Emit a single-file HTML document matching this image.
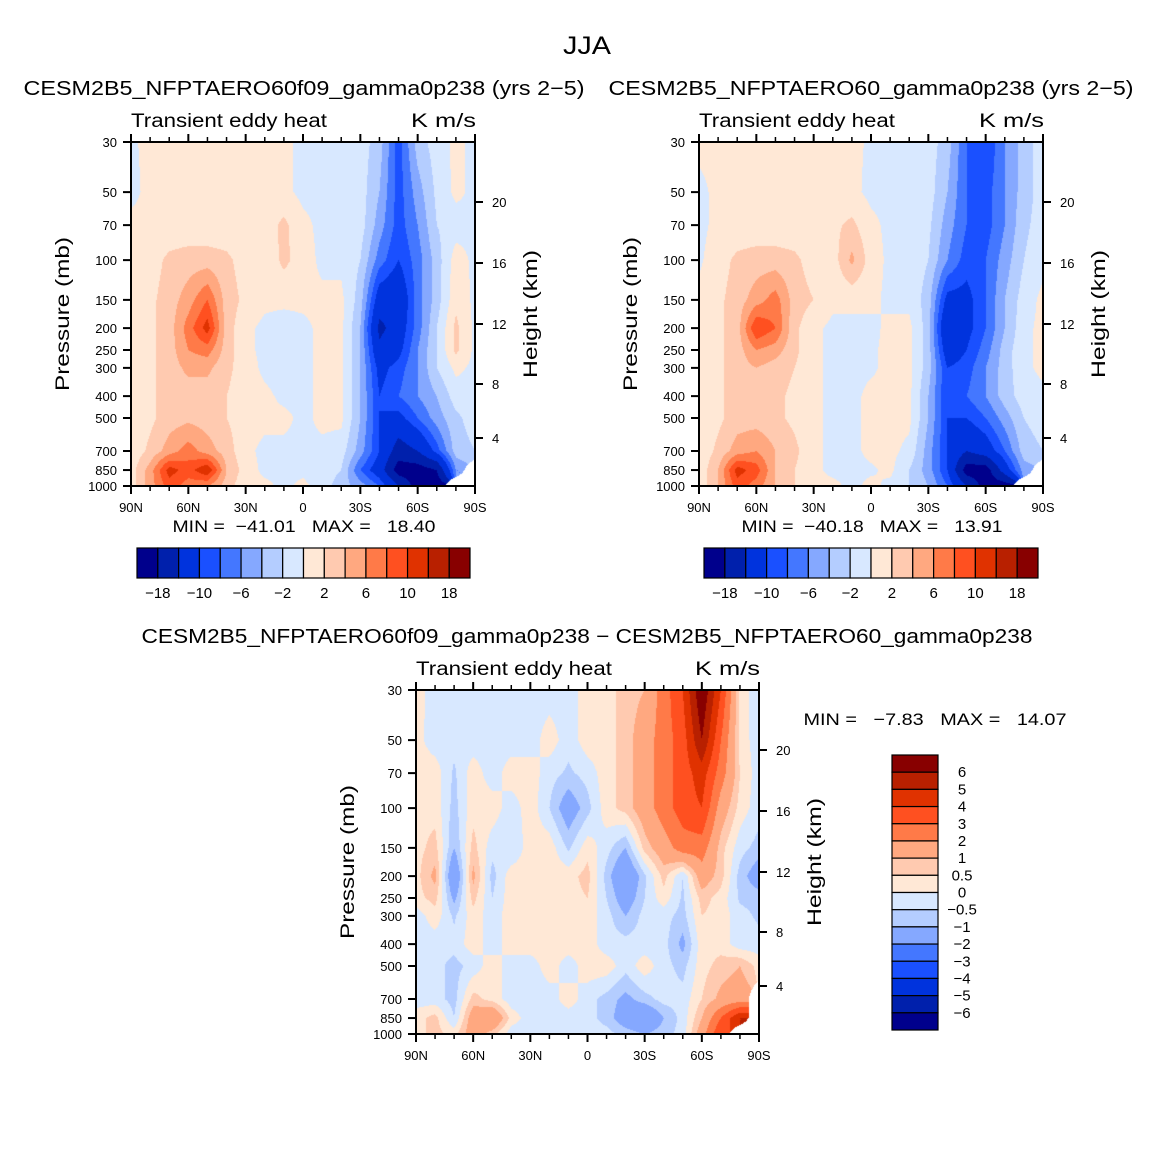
<!DOCTYPE html>
<html><head><meta charset="utf-8"><style>
body{margin:0;background:#fff;}
#wrap{position:relative;width:1175px;height:1175px;font-family:"Liberation Sans",sans-serif;}
svg text{font-family:"Liberation Sans",sans-serif;fill:#000;white-space:pre;}
canvas{position:absolute;}
</style></head><body>
<div id="wrap">
<canvas id="c1" width="344" height="344" style="left:131px;top:142px"></canvas>
<canvas id="c2" width="344" height="344" style="left:699px;top:142px"></canvas>
<canvas id="c3" width="343" height="344" style="left:416px;top:690px"></canvas>
<svg id="s" width="1175" height="1175" style="position:absolute;left:0;top:0"></svg>
</div>
<script>
const pLevels=[30,50,70,100,150,200,250,300,400,500,700,850,1000];
const latLabels=["90N","60N","30N","0","30S","60S","90S"];
const pTickLabels=[30,50,70,100,150,200,250,300,400,500,700,850,1000];
const hTickLabels=[4,8,12,16,20];
const hTickOffsets=[48,102,162,223,284];
const levels12=[-18,-14,-10,-8,-6,-4,-2,0,2,4,6,8,10,14,18];
const levels3=[-6,-5,-4,-3,-2,-1,-0.5,0,0.5,1,2,3,4,5,6];
const colors=["#00008c","#0020ac","#0033dd","#1a50ff","#4477ff","#85a8ff","#b4cdff","#d8e8ff","#ffe8d6","#ffcab0","#ffa880","#ff7a48","#ff5020","#e03200","#b82000","#880000"];
const N=NaN;
const field1=[
[-0.3,0.5,0.5,0.5,0.5,0.5,0.5,0.5,0.5,-0.5,-0.5,-0.5,-1,-3,-9,-3,-1,0.5,-0.5],
[-0.5,0.5,0.5,0.5,0.5,0.5,0.5,0.5,0.5,-0.5,-0.5,-0.5,-1,-4,-9,-5,-1.5,0.5,-0.5],
[0.5,0.5,0.5,0.5,0.5,0.5,0.5,1,2.5,0.5,-0.5,-0.5,-1,-5,-9,-6,-2,-1,-0.5],
[0.5,1,2.5,3,3,2.5,1,0.5,2.5,1,-0.5,-0.5,-2,-7,-10,-7,-3,1,-0.5],
[0.5,1.5,3,5,8,3,1.5,0.5,0.5,0.5,0.5,0.5,-3,-12,-13,-7,-3,1.5,-0.5],
[0.5,1.5,3,7,11,3,0.5,-0.5,-1,-0.5,0.5,0.5,-4,-15,-12,-7,-2,2.5,-0.5],
[0.5,1.5,3,6,7,3,0.5,-0.5,-1,-0.5,0.5,0.5,-4,-13,-11,-6,-2,2.5,-0.5],
[0.5,1.5,3,4.5,4.5,2.5,1,-0.5,-1,-0.5,0.5,0.5,-4,-11,-9,-6,-2,0.5,-0.5],
[0.5,1.5,3,3,3,2,1,0.5,-0.5,-0.5,0.5,0.5,-4,-10,-8,-6,-4,-1,-0.5],
[0.5,1.5,3,3.5,3,2,1,0.5,0.5,-0.5,0.5,0.5,-4,-10,-11,-8,-5,-2.5,-1],
[0.5,2.5,5,7,5,3,0.5,-0.5,-0.5,-0.5,-0.5,-1,-5,-10,-16,-14,-9,-3,-2],
[1,5,11,9,12,4,1,-0.5,-0.5,-0.5,-1,-2,-8,-12,-20,-20,-18,-6,N],
[1,5,9,7,6,3,0.5,0.5,-0.5,0.5,-1,-3,-5,-8,-14,-20,-20,N,N]];
const field2=[
[0.5,0.5,0.5,0.5,0.5,0.5,0.5,0.5,0.5,-0.3,-0.5,-0.5,-1,-3,-8,-10,-6,-3,-1],
[-0.5,0.5,0.5,0.5,0.5,0.5,0.5,0.5,0.5,-0.5,-0.5,-0.5,-1,-4,-8,-9,-6,-3,-1],
[-0.5,0.5,0.5,0.5,0.5,0.5,0.5,1.5,2.5,0.5,-0.5,-0.5,-1.5,-5,-8,-9,-6,-2.5,-1],
[-0.3,1,2.5,3,3,2.5,1,1,4.5,1,-0.5,-0.5,-2,-6,-9,-8,-5,-2,-0.5],
[0.5,1.5,3,5,7,3,2,0.5,0.5,0.5,-0.5,-0.5,-3,-11,-11,-8,-4,-1,0.5],
[0.5,1.5,3,10,8,2.5,0.5,-0.5,-0.5,-0.5,0.5,0.5,-3,-14,-11,-8,-4,-0.5,0.5],
[0.5,1.5,3,6,5,2.5,0.5,-0.5,-0.5,-0.3,0.5,0.5,-3,-12,-10,-7,-3,-0.5,0.5],
[0.5,1.5,3,4,3,2,0.5,-0.5,-0.5,-0.3,0.5,0.5,-3,-10,-9,-6,-3,-0.5,0.5],
[0.5,1.5,3,3,2.5,1.5,0.5,-0.5,-0.5,0.5,0.5,0.5,-4,-10,-8,-6,-3,-1,-0.5],
[0.5,1.5,3,3,2.5,1.5,0.5,-0.5,-0.5,0.5,0.5,0.5,-4,-10,-10,-8,-5,-2,-1],
[0.5,2.5,5,6,4,2.5,0.5,-0.5,-0.5,0.5,0.5,-0.5,-5,-10,-14,-12,-8,-3,-2],
[0.5,4,11,9,4,2,0.5,-0.5,-0.5,-0.3,0.5,-2,-5,-10,-20,-20,-12,-5,N],
[0.5,4,9,7,4,2,0.5,0.5,-0.5,0.5,-0.5,-2,-4,-8,-14,-20,-20,N,N]];
const field3=[
[0.3,-0.3,-0.3,-0.3,-0.3,-0.3,-0.3,-0.3,-0.3,0.3,0.3,0.7,1,2.5,4,7,4,0.3,-0.3],
[0.2,-0.3,-0.3,-0.3,-0.3,-0.3,-0.3,0.3,-0.3,0.3,0.3,0.7,1.5,2.5,3.5,6,3,0.3,-0.3],
[0.3,0.3,-0.6,0.3,-0.3,0.3,0.3,-0.3,-0.6,-0.3,0.3,0.7,1.5,2.5,3.5,4.5,2.5,0.5,-0.3],
[0.3,0.3,-0.7,0.3,0.3,-0.3,0.3,-0.5,-1.5,-0.7,0.3,0.7,1.5,2.5,3.5,4,1.5,0.3,-0.3],
[0.3,0.7,-1,0.7,-0.3,-0.5,0.3,0.3,-0.6,0.3,-0.3,-1,0.7,1.5,2.5,2.5,0.7,-0.3,-0.7],
[0.3,1.2,-2,1.2,-0.7,0.3,0.3,0.3,0.3,0.7,-0.7,-2,-0.6,0.7,-0.5,1.5,0.7,-0.7,-1.5],
[0.3,0.7,-1.2,0.7,-0.5,0.3,0.3,0.3,0.3,0.5,-0.5,-1.5,-0.5,0.3,-0.6,0.7,0.3,-0.6,-0.7],
[-0.3,0.3,-0.6,0.3,-0.3,0.3,0.3,0.3,0.3,0.3,-0.3,-1,-0.3,-0.3,-0.7,0.5,0.3,-0.3,-0.6],
[-0.3,-0.3,-0.3,0.3,-0.3,0.3,0.3,0.3,0.3,0.3,-0.3,-0.3,-0.3,-0.3,-1.2,0.3,0.3,-0.3,-0.3],
[-0.3,-0.3,-0.7,-0.3,0.3,-0.3,-0.3,0.3,-0.3,0.3,0.3,-0.3,0.3,-0.3,-0.7,0.3,0.7,1,0.3],
[-0.3,-0.3,-0.7,0.7,0.3,-0.3,-0.3,-0.3,0.3,-0.3,-0.7,-1.2,-0.7,-0.3,-0.3,0.5,1.2,1.5,N],
[0.3,0.7,-0.5,1.5,2,0.3,-0.3,-0.3,-0.3,-0.3,-0.7,-1.5,-2,-1,-0.3,1,3,5,N],
[0.3,0.7,0.3,1.5,0.7,-0.3,-0.3,-0.3,-0.3,-0.3,-0.3,-0.7,-1,-0.7,-0.3,1.5,4,N,N]];

function colorFor(v,lev){let i=0;while(i<lev.length&&v>=lev[i])i++;return colors[i];}
function hex(c){return[parseInt(c.slice(1,3),16),parseInt(c.slice(3,5),16),parseInt(c.slice(5,7),16)];}
const LN=Math.log(1000/30);
function drawField(id,f,lev){
  const cv=document.getElementById(id),ctx=cv.getContext('2d');
  const W=cv.width,H=cv.height,img=ctx.createImageData(W,H);
  const lp=pLevels.map(p=>Math.log(1000/p)/LN);
  for(let y=0;y<H;y++){
    const fy=1-(y+0.5)/H;
    let r=0;while(r<pLevels.length-2&&lp[r+1]>fy)r++;
    let t=(lp[r]-fy)/(lp[r]-lp[r+1]);t=Math.max(0,Math.min(1,t));
    for(let x=0;x<W;x++){
      const gx=(x+0.5)/W*18;let c=Math.min(17,Math.floor(gx));const s=gx-c;
      const vals=[f[r][c],f[r][c+1],f[r+1][c],f[r+1][c+1]];
      const w=[(1-s)*(1-t),s*(1-t),(1-s)*t,s*t];
      let sum=0,ws=0,nw=0;
      for(let k=0;k<4;k++){if(isNaN(vals[k]))nw+=w[k];else{sum+=vals[k]*w[k];ws+=w[k];}}
      const o=(y*W+x)*4;
      if(nw>0.45||ws===0){img.data[o]=255;img.data[o+1]=255;img.data[o+2]=255;img.data[o+3]=255;continue;}
      const rgb=hex(colorFor(sum/ws,lev));
      img.data[o]=rgb[0];img.data[o+1]=rgb[1];img.data[o+2]=rgb[2];img.data[o+3]=255;
    }
  }
  ctx.putImageData(img,0,0);
}
drawField('c1',field1,levels12);
drawField('c2',field2,levels12);
drawField('c3',field3,levels3);

const NS="http://www.w3.org/2000/svg",svg=document.getElementById('s');
function el(tag,attrs,txt){const e=document.createElementNS(NS,tag);for(const k in attrs)e.setAttribute(k,attrs[k]);if(txt!==undefined)e.textContent=txt;svg.appendChild(e);return e;}
function T(x,y,s,size,anchor,name,rot,len){const e=el('text',{x:x,y:y,'font-size':size,'text-anchor':anchor||'start'},s);


e.setAttribute('xml:space','preserve');
if(len){e.setAttribute('textLength',len);e.setAttribute('lengthAdjust','spacingAndGlyphs');}
if(rot)e.setAttribute('transform','rotate(-90 '+x+' '+y+')');return e;}
T(587,54,"JJA",25,'middle','figure-title',false,48);
function panel(x0,y0,W,H,idx){
  const fr=el('rect',{x:x0,y:y0,width:W,height:H,fill:'none',stroke:'#000','stroke-width':2});
  
  
  T(x0,y0-15,"Transient eddy heat",19,'start','panel-subtitle-'+idx,false,196);
  T(x0+W+1,y0-15,"K m/s",19,'end','units-label-'+idx,false,65);
  for(let i=0;i<=18;i++){
    const x=x0+W*i/18,maj=i%3===0,L=maj?8:5;
    el('line',{x1:x,y1:y0+H,x2:x,y2:y0+H+L,stroke:'#000','stroke-width':maj?2:1.5});
    el('line',{x1:x,y1:y0,x2:x,y2:y0-L,stroke:'#000','stroke-width':maj?2:1.5});
    if(maj){T(x,y0+H+26,latLabels[i/3],13,'middle','lat-tick-label-'+idx);}
  }
  pTickLabels.forEach(p=>{
    const y=y0+H-H*Math.log(1000/p)/LN;
    el('line',{x1:x0-8,y1:y,x2:x0,y2:y,stroke:'#000','stroke-width':2});
    T(x0-14,y+5,String(p),13,'end','pressure-tick-label-'+idx);
  });
  hTickLabels.forEach((h,i)=>{
    const y=y0+H-hTickOffsets[i];
    el('line',{x1:x0+W,y1:y,x2:x0+W+8,y2:y,stroke:'#000','stroke-width':2});
    T(x0+W+17,y+5,String(h),13,'start','height-tick-label-'+idx);
  });
  T(x0-62,y0+H/2,"Pressure (mb)",19,'middle','y-axis-title-'+idx,true,154);
  T(x0+W+62,y0+H/2,"Height (km)",19,'middle','y-axis-right-title-'+idx,true,128);
}
T(304,95,"CESM2B5_NFPTAERO60f09_gamma0p238 (yrs 2\u22125)",20,'middle','panel-title-1',false,561);
T(871,95,"CESM2B5_NFPTAERO60_gamma0p238 (yrs 2\u22125)",20,'middle','panel-title-2',false,525);
T(587,643,"CESM2B5_NFPTAERO60f09_gamma0p238 \u2212 CESM2B5_NFPTAERO60_gamma0p238",20,'middle','panel-title-diff',false,891);
panel(131,142,344,344,1);panel(699,142,344,344,2);panel(416,690,343,344,3);
T(304,532,"MIN =  \u221241.01   MAX =   18.40",17,'middle','minmax-1',false,263);
T(872,532,"MIN =  \u221240.18   MAX =   13.91",17,'middle','minmax-2',false,261);
T(935,725,"MIN =   \u22127.83   MAX =   14.07",17,'middle','minmax-3',false,263);
const barLabels12=["\u221218","\u221210","\u22126","\u22122","2","6","10","18"];
function hbar(x0,y0,W,H,idx){
  const bw=W/16;
  colors.forEach((c,i)=>{const r=el('rect',{x:x0+i*bw,y:y0,width:bw,height:H,fill:c,stroke:'#000','stroke-width':1.2});
  
  });
  barLabels12.forEach((l,j)=>T(x0+bw*(2*j+1),y0+H+20,l,15,'middle','colorbar-label-'+idx));
}
hbar(137,548,333,30,1);hbar(704,548,334,30,2);
const barLabels3=["6","5","4","3","2","1","0.5","0","\u22120.5","\u22121","\u22122","\u22123","\u22124","\u22125","\u22126"];
(function(){const x0=892,y0=755,W=46,H=275,bh=H/16;
  for(let i=0;i<16;i++){const r=el('rect',{x:x0,y:y0+i*bh,width:W,height:bh,fill:colors[15-i],stroke:'#000','stroke-width':1.2});
  
  }
  barLabels3.forEach((l,j)=>T(962,y0+bh*(j+1)+5,l,15,'middle','colorbar-label-3'));
})();
</script>
</body></html>
